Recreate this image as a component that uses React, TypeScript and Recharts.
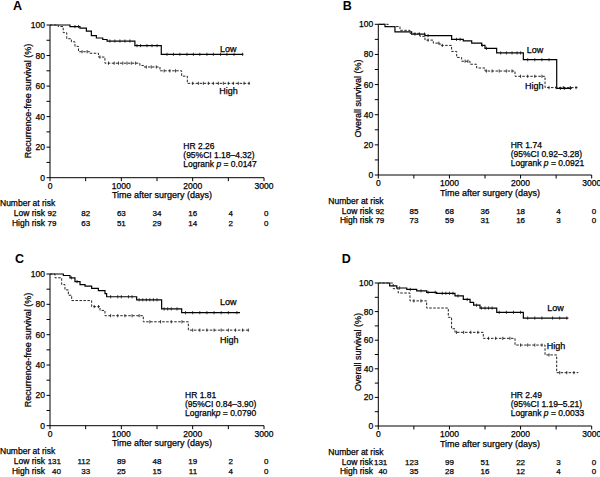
import React from 'react';
import { ComposedChart, Line, Scatter, XAxis, YAxis } from 'recharts';

const xTicks = [0, 500, 1000, 1500, 2000, 2500, 3000];
const yTicks = [0, 10, 20, 30, 40, 50, 60, 70, 80, 90, 100];

// A: recurrence-free survival, cohort 1
const aLowTime = [0, 280, 420, 510, 580, 650, 740, 800, 1190, 1560, 2710];
const aLowSurv = [100, 99, 98, 96, 93, 91.5, 90.5, 89.5, 86.5, 80.8, 80.8];
const aLowCensor = [350, 400, 840, 910, 980, 1050, 1120, 1220, 1270, 1360, 1430, 1500, 1640, 1730, 1820, 1920, 2010, 2100, 2200, 2290, 2390, 2480, 2580, 2700];
const aHighTime = [0, 115, 185, 235, 300, 350, 400, 560, 680, 770, 1260, 1310, 1542, 1846, 1925, 2804];
const aHighSurv = [100, 99, 95, 91, 89, 86, 82.5, 81.5, 79, 75, 73.5, 72.5, 70, 66.5, 61.8, 61.8];
const aHighCensor = [450, 520, 700, 820, 900, 960, 1020, 1080, 1140, 1200, 1350, 1420, 1490, 1600, 1680, 1760, 2000, 2080, 2150, 2220, 2290, 2360, 2430, 2500, 2570, 2640, 2720, 2790];
const aRiskLow = [92, 82, 63, 34, 16, 4, 0];
const aRiskHigh = [79, 63, 51, 29, 14, 2, 0];

// B: overall survival, cohort 1
const bLowTime = [0, 94, 234, 469, 656, 1031, 1195, 1313, 1453, 1500, 1664, 2039, 2508, 2719];
const bLowSurv = [100, 98.5, 95, 93.5, 92.5, 90, 89, 87.5, 86, 84, 81, 76.5, 57.5, 57.5];
const bLowCensor = [515, 580, 650, 700, 1100, 1150, 1460, 1520, 1720, 1800, 1880, 1950, 2000, 2100, 2200, 2300, 2400, 2560, 2620, 2700];
const bHighTime = [0, 141, 305, 445, 586, 656, 773, 867, 1031, 1102, 1172, 1289, 1383, 1500, 1922, 2344, 2813];
const bHighSurv = [100, 98.5, 96, 94, 92, 89.5, 87.5, 86, 82, 78, 75.5, 73.5, 71, 69, 65.5, 58, 58];
const bHighCensor = [700, 850, 900, 1220, 1260, 1520, 1600, 1700, 1800, 1880, 2000, 2100, 2200, 2300, 2400, 2500, 2600, 2700, 2780];
const bRiskLow = [92, 85, 68, 36, 18, 4, 0];
const bRiskHigh = [79, 73, 59, 31, 16, 3, 0];

// C: recurrence-free survival, cohort 2
const cLowTime = [0, 187, 280, 350, 421, 491, 584, 678, 771, 794, 1215, 1565, 1846, 2664];
const cLowSurv = [100, 99, 97.5, 95, 93, 92, 90.5, 89, 87, 85, 83, 77, 74.5, 74.5];
const cLowCensor = [300, 380, 850, 950, 1000, 1100, 1150, 1250, 1300, 1350, 1400, 1450, 1500, 1600, 1650, 1700, 1780, 1900, 2000, 2100, 2200, 2300, 2400, 2500, 2620];
const cHighTime = [0, 70, 164, 210, 257, 304, 584, 701, 771, 1308, 1939, 2804];
const cHighSurv = [100, 97.5, 93, 89.5, 86, 82.5, 78.5, 76, 72.5, 68.5, 63, 63];
const cHighCensor = [620, 680, 850, 950, 1050, 1150, 1250, 1400, 1550, 1700, 1850, 2000, 2100, 2200, 2300, 2400, 2500, 2600, 2700, 2780];
const cRiskLow = [131, 112, 89, 48, 19, 2, 0];
const cRiskHigh = [40, 33, 25, 15, 11, 4, 0];

// D: overall survival, cohort 2
const dLowTime = [0, 160, 260, 400, 540, 680, 820, 1078, 1195, 1290, 1340, 1430, 1665, 2039, 2672];
const dLowSurv = [100, 98, 96.5, 95.5, 94.5, 93.5, 92.8, 91, 88.5, 86.5, 84.5, 82.5, 79.5, 75.5, 75.5];
const dLowCensor = [300, 450, 600, 700, 800, 900, 950, 1000, 1050, 1120, 1250, 1380, 1450, 1500, 1550, 1600, 1700, 1800, 1900, 2000, 2100, 2200, 2300, 2450, 2550, 2650];
const dHighTime = [0, 210, 280, 445, 680, 984, 1030, 1078, 1476, 1922, 2344, 2508, 2812];
const dHighSurv = [100, 96, 93, 87.5, 82.5, 76, 68, 65.5, 61.3, 56.6, 49.7, 37.3, 37.3];
const dHighCensor = [500, 600, 1100, 1200, 1300, 1400, 1550, 1650, 1750, 1850, 2000, 2100, 2200, 2300, 2400, 2550, 2650, 2750];
const dRiskLow = [131, 123, 99, 51, 22, 3, 0];
const dRiskHigh = [40, 35, 28, 16, 12, 4, 0];

const toPoints = (t: number[], s: number[]) => t.map((v, i) => ({ t: v, s: s[i] }));
const survAt = (t: number[], s: number[], x: number) => {
  let v = s[0];
  t.forEach((tv, i) => {
    if (tv <= x) v = s[i];
  });
  return v;
};
const censorPoints = (c: number[], t: number[], s: number[]) => c.map((x) => ({ t: x, s: survAt(t, s, x) }));

const FONT = '"Liberation Sans", Arial, Helvetica, sans-serif';
// thin outline so the small text reads as heavy as the scanned figure
const INK = { fill: '#000', stroke: '#000', strokeWidth: 0.25 };

// rows of the number-at-risk table, below the x axis
const ROW_HEAD = 28.5;
const ROW_LOW = 38.5;
const ROW_HIGH = 48;

const CensorMark = (props: any) => {
  const { cx, cy } = props;
  return <line x1={cx} x2={cx} y1={cy - 1.6} y2={cy + 1.6} stroke="#111" strokeWidth={0.8} />;
};

type PanelProps = {
  letter: string;
  yTitle: string;
  low: { t: number[]; s: number[]; c: number[] };
  high: { t: number[]; s: number[]; c: number[] };
  riskLow: number[];
  riskHigh: number[];
  hr: string;
  ci: string;
  logrank: string;
  pval: string;
  lay: any;
};

const Panel = ({ letter, yTitle, low, high, riskLow, riskHigh, hr, ci, logrank, pval, lay }: PanelProps) => {
  const { left, top, H, pl, pr, pt, pb } = lay;
  const xTick = (p: any) => {
    const v = p.payload.value;
    const i = xTicks.indexOf(v);
    const off = i === 0 ? lay.firstCol : 4.5;
    return (
      <g {...INK}>
        {v % 1000 === 0 && (
          <text x={p.x} y={pb + 11} textAnchor="middle" fontSize={8.5}>{v}</text>
        )}
        <text x={p.x + off} y={pb + ROW_LOW} textAnchor="end" fontSize={8}>{riskLow[i]}</text>
        <text x={p.x + off} y={pb + ROW_HIGH} textAnchor="end" fontSize={8}>{riskHigh[i]}</text>
      </g>
    );
  };
  const yTick = (p: any) => {
    const v = p.payload.value;
    if (v % 20 !== 0) return <g />;
    return (
      <text x={pl - 5} y={p.y} dy="0.35em" textAnchor="end" fontSize={8.5} {...INK}>{v}</text>
    );
  };
  return (
    <div style={{ position: 'absolute', left, top, width: 300, height: H }}>
      <ComposedChart width={300} height={H} margin={{ top: pt, right: 300 - pr, bottom: 0, left: 0 }}>
        <XAxis
          type="number"
          dataKey="t"
          domain={[0, 3000]}
          ticks={xTicks}
          interval={0}
          height={H - pb}
          tickSize={3.5}
          tick={xTick}
          axisLine={{ stroke: '#000', strokeWidth: 1 }}
          tickLine={{ stroke: '#000' }}
          allowDataOverflow
        />
        <YAxis
          type="number"
          domain={[0, 100]}
          ticks={yTicks}
          interval={0}
          width={pl}
          tickSize={3.5}
          tick={yTick}
          axisLine={{ stroke: '#000', strokeWidth: 1 }}
          tickLine={{ stroke: '#000' }}
        />
        <Line data={toPoints(low.t, low.s)} dataKey="s" type="stepAfter" stroke="#000" strokeWidth={1.2} dot={false} isAnimationActive={false} />
        <Line data={toPoints(high.t, high.s)} dataKey="s" type="stepAfter" stroke="#222" strokeWidth={1} strokeDasharray="2.5 1.5" dot={false} isAnimationActive={false} />
        <Scatter data={censorPoints(low.c, low.t, low.s)} dataKey="s" shape={CensorMark} isAnimationActive={false} />
        <Scatter data={censorPoints(high.c, high.t, high.s)} dataKey="s" shape={CensorMark} isAnimationActive={false} />
      </ComposedChart>
      <svg width={300} height={H} style={{ position: 'absolute', left: 0, top: 0, pointerEvents: 'none', overflow: 'visible' }} fontFamily={FONT}>
        <text x={lay.letter[0]} y={lay.letter[1]} fontSize={12.5} fontWeight="bold">{letter}</text>
        <g {...INK}>
          <text x={lay.yTitle[0]} y={lay.yTitle[1]} transform={`rotate(-90 ${lay.yTitle[0]} ${lay.yTitle[1]})`} textAnchor="middle" fontSize={9}>{yTitle}</text>
          <text x={(pl + pr) / 2 + 5} y={pb + 20.5} textAnchor="middle" fontSize={9}>Time after surgery (days)</text>
          <text x={lay.stats[0]} y={lay.stats[1]} fontSize={8.5}>{hr}</text>
          <text x={lay.stats[0]} y={lay.stats[1] + 9} fontSize={8.5}>{ci}</text>
          <text x={lay.stats[0]} y={lay.stats[1] + 18} fontSize={8.5}>
            {logrank}<tspan fontStyle="italic">p</tspan>{` = ${pval}`}
          </text>
          <text x={lay.lowLab[0]} y={lay.lowLab[1]} fontSize={9}>Low</text>
          <text x={lay.highLab[0]} y={lay.highLab[1]} fontSize={9}>High</text>
          <text x={lay.riskX} y={pb + ROW_HEAD} fontSize={8.5}>Number at risk</text>
          <text x={lay.riskEnd} y={pb + ROW_LOW} fontSize={8.5} textAnchor="end">Low risk</text>
          <text x={lay.riskEnd} y={pb + ROW_HIGH} fontSize={8.5} textAnchor="end">High risk</text>
        </g>
      </svg>
    </div>
  );
};

export default function App() {
  return (
    <div style={{ position: 'absolute', left: 0, top: 0, width: 600, height: 477, background: '#fff', fontFamily: FONT }}>
      <Panel
        letter="A"
        yTitle="Recurrence-free survival (%)"
        low={{ t: aLowTime, s: aLowSurv, c: aLowCensor }}
        high={{ t: aHighTime, s: aHighSurv, c: aHighCensor }}
        riskLow={aRiskLow}
        riskHigh={aRiskHigh}
        hr="HR 2.26"
        ci="(95%CI 1.18–4.32)"
        logrank="Logrank "
        pval="0.0147"
        lay={{ left: 0, top: 0, H: 234, pl: 50, pr: 264, pt: 25, pb: 177.7, letter: [13, 10], yTitle: [31, 101], stats: [183.3, 149], lowLab: [220, 51.7], highLab: [219.3, 93.5], riskX: 0, riskEnd: 45, firstCol: 6.5 }}
      />
      <Panel
        letter="B"
        yTitle="Overall survival (%)"
        low={{ t: bLowTime, s: bLowSurv, c: bLowCensor }}
        high={{ t: bHighTime, s: bHighSurv, c: bHighCensor }}
        riskLow={bRiskLow}
        riskHigh={bRiskHigh}
        hr="HR 1.74"
        ci="(95%CI 0.92–3.28)"
        logrank="Logrank "
        pval="0.0921"
        lay={{ left: 300, top: 0, H: 234, pl: 78.3, pr: 291.7, pt: 24.3, pb: 175, letter: [42.7, 10], yTitle: [61, 98.5], stats: [210.7, 148.3], lowLab: [226.7, 53.3], highLab: [225, 89.3], riskX: 28.3, riskEnd: 73, firstCol: 6 }}
      />
      <Panel
        letter="C"
        yTitle="Recurrence-free survival (%)"
        low={{ t: cLowTime, s: cLowSurv, c: cLowCensor }}
        high={{ t: cHighTime, s: cHighSurv, c: cHighCensor }}
        riskLow={cRiskLow}
        riskHigh={cRiskHigh}
        hr="HR 1.81"
        ci="(95%CI 0.84–3.90)"
        logrank="Logrank"
        pval="0.0790"
        lay={{ left: 0, top: 240, H: 237, pl: 50, pr: 264, pt: 34, pb: 185.7, letter: [15, 22.7], yTitle: [31, 110], stats: [185, 158.3], lowLab: [220, 65], highLab: [220, 103], riskX: 0, riskEnd: 45, firstCol: 11 }}
      />
      <Panel
        letter="D"
        yTitle="Overall survival (%)"
        low={{ t: dLowTime, s: dLowSurv, c: dLowCensor }}
        high={{ t: dHighTime, s: dHighSurv, c: dHighCensor }}
        riskLow={dRiskLow}
        riskHigh={dRiskHigh}
        hr="HR 2.49"
        ci="(95%CI 1.19–5.21)"
        logrank="Logrank "
        pval="0.0033"
        lay={{ left: 300, top: 240, H: 237, pl: 78.3, pr: 291.7, pt: 43, pb: 186, letter: [41.7, 22.7], yTitle: [61, 112], stats: [210.7, 157.7], lowLab: [247.3, 70.7], highLab: [246.7, 109.3], riskX: 28.3, riskEnd: 73, firstCol: 9 }}
      />
    </div>
  );
}
